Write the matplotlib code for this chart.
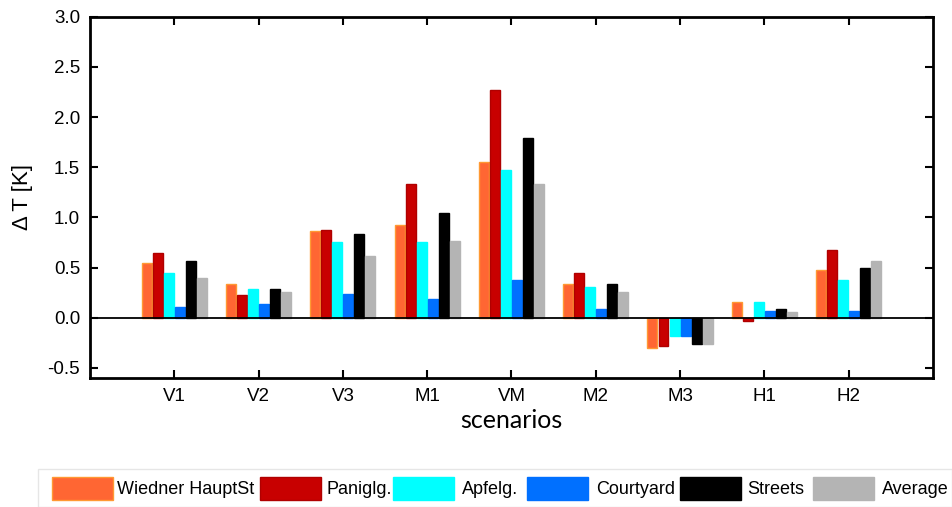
import matplotlib
matplotlib.use("Agg")
import matplotlib.pyplot as plt
from matplotlib.patches import Rectangle
import numpy as np

scenarios = ["V1", "V2", "V3", "M1", "VM", "M2", "M3", "H1", "H2"]
series_names = ["Wiedner HauptSt", "Paniglg.", "Apfelg.", "Courtyard", "Streets", "Average"]

wiedner = [0.55, 0.34, 0.86, 0.92, 1.55, 0.34, -0.30, 0.16, 0.48]
paniglg = [0.65, 0.23, 0.87, 1.33, 2.27, 0.45, -0.28, -0.03, 0.68]
apfelg = [0.45, 0.29, 0.76, 0.76, 1.47, 0.31, -0.18, 0.16, 0.38]
courtyard = [0.11, 0.14, 0.24, 0.19, 0.38, 0.09, -0.18, 0.07, 0.07]
streets = [0.57, 0.29, 0.84, 1.04, 1.79, 0.34, -0.26, 0.09, 0.50]
average = [0.40, 0.26, 0.62, 0.77, 1.33, 0.26, -0.26, 0.06, 0.57]

series = [wiedner, paniglg, apfelg, courtyard, streets, average]
faces = ["#FF6633", "#C80000", "#00FFFF", "#0070FF", "#000000", "#B4B4B4"]
edges = ["#FF9933", "#B00000", "#00FFFF", "#0070FF", "#000000", "#B4B4B4"]

plt.rcParams["font.family"] = ["Liberation Sans", "DejaVu Sans"]

W, H = 952, 507
fig = plt.figure(figsize=(W / 100, H / 100), dpi=100)
ax = fig.add_axes([0.0945, 0.2544, 0.8855, 0.7126])

x = np.arange(1, len(scenarios) + 1)
slot = 0.131
for i, (vals, fc, ec) in enumerate(zip(series, faces, edges)):
    offs = (i - 2.5) * slot
    ax.bar(x + offs, vals, width=0.118, color=fc, edgecolor=ec, linewidth=1.0, zorder=2)

ax.axhline(0, color="black", linewidth=1.3, zorder=3)
ax.set_xlim(0, 10)
ax.set_ylim(-0.6, 3.0)
ax.set_xticks(x)
ax.set_xticklabels(scenarios)
yt = np.arange(-0.5, 3.01, 0.5)
ax.set_yticks(yt)
ax.set_yticklabels([f"{v:.1f}" for v in yt])
ax.tick_params(direction="in", length=6, width=1.5, labelsize=13.5, top=True, right=True,
               labeltop=False, labelright=False, pad=7)
for sp in ax.spines.values():
    sp.set_linewidth(2.0)

ax.set_ylabel("Δ T [K]", fontsize=16)
ax.yaxis.set_label_coords(-0.0795, 0.5)
ax.yaxis.label.set_va("center")
ax.set_xlabel("scenarios", fontsize=18, family=["Lato", "DejaVu Sans"])
ax.xaxis.set_label_coords(0.5, -0.1385)
ax.xaxis.label.set_va("baseline")

# legend strip below the axes: one swatch and label per series
fig.patches.append(Rectangle((38 / W, 0), (W - 38) / W, (H - 469) / H,
                             transform=fig.transFigure, facecolor="white",
                             edgecolor="#E6E6E6", linewidth=1.0))
patch_x = [52, 260, 393, 527, 680, 813]
text_x = [117, 326, 462, 596, 747, 882]
for px, tx, name, fc, ec in zip(patch_x, text_x, series_names, faces, edges):
    fig.patches.append(Rectangle((px / W, 1 - 500 / H), 61 / W, 23 / H,
                                 transform=fig.transFigure, facecolor=fc,
                                 edgecolor=ec, linewidth=1.0))
    fig.text(tx / W, 1 - 489 / H, name, fontsize=13,
             va="center", ha="left")

fig.savefig("out.png", dpi=100)
